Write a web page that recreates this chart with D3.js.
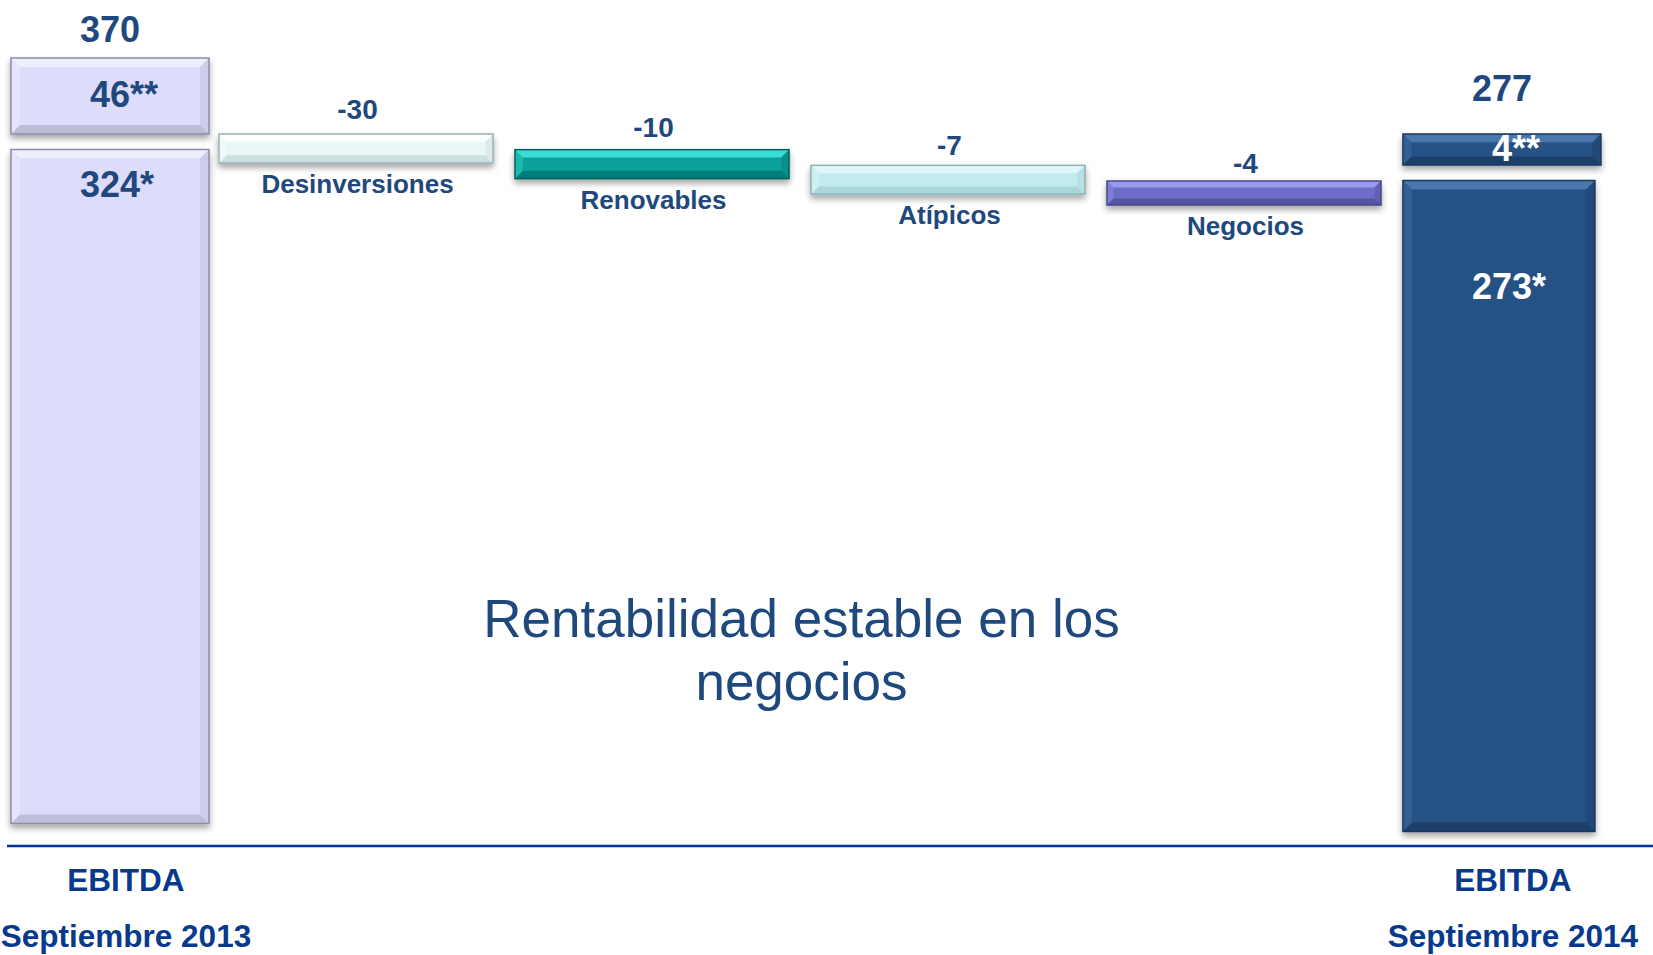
<!DOCTYPE html>
<html>
<head>
<meta charset="utf-8">
<script src="https://cdn.jsdelivr.net/npm/d3@7"></script>
<style>
  html, body { margin: 0; padding: 0; background: #ffffff; }
  svg { display: block; }
  text { font-family: "Liberation Sans", Arial, sans-serif; }
</style>
</head>
<body>
<svg id="chart" width="1653" height="955"></svg>
<script>
// ---------------- data ----------------
const categories = ["EBITDA Septiembre 2013", "Desinversiones", "Renovables", "Atípicos", "Negocios", "EBITDA Septiembre 2014"];
const stepCategories = ["Desinversiones", "Renovables", "Atípicos", "Negocios"];
const stepValues = [-30, -10, -7, -4];
const totals = [370, 277];              // EBITDA 2013, EBITDA 2014
const startParts = [324, 46];           // main*, extra**
const endParts = [273, 4];              // main*, extra**
const partSuffix = ["*", "**"];
const bottomLabels = [["EBITDA", "Septiembre 2013"], ["EBITDA", "Septiembre 2014"]];
const noteLines = ["Rentabilidad estable en los", "negocios"];

// ---------------- styles ----------------
const textBlue = "#1F497D";
const axisBlue = "#003399";
const bottomBlue = "#073A8C";
const stepStyle = {
  "Desinversiones": { fill: "#E9F6F6", stroke: "#9DB3B3", top: "#FFFFFF", bottom: "#C9DEDE" },
  "Renovables":     { fill: "#08A19C", stroke: "#06625F", top: "#3FE3DA", bottom: "#067A76" },
  "Atípicos":       { fill: "#C3EBEE", stroke: "#8DB2B5", top: "#E2F8FA", bottom: "#A7D4D8" },
  "Negocios":       { fill: "#6D6DC8", stroke: "#47478C", top: "#9D9DF2", bottom: "#52529E" }
};
const startStyle = { fill: "#DDDDFB", stroke: "#8D8DA6", top: "#F0F0FF", bottom: "#B9B9D6" };
const endStyle   = { fill: "#255185", stroke: "#19385D", top: "#4D7BB2", bottom: "#1B3D66" };

const svg = d3.select("#chart");
const defs = svg.append("defs");
const f = defs.append("filter").attr("id", "shadow").attr("x", "-10%").attr("y", "-20%").attr("width", "120%").attr("height", "160%");
f.append("feDropShadow").attr("dx", 0).attr("dy", 4).attr("stdDeviation", 3).attr("flood-color", "#000").attr("flood-opacity", 0.35);

// ---------------- scales ----------------
const x = d3.scaleBand().domain(categories).range([-77, 1680]).paddingInner(0.064).paddingOuter(0);
const bw = x.bandwidth();
const endW = 198;

const yStep = d3.scalePoint().domain(stepCategories).range([134, 181]);
const yStepLabel = d3.scalePoint().domain(stepCategories).range([119, 173]);
const thickness = d3.scaleLinear().domain([4, 7]).range([24, 29]).clamp(true);

const yTotal = d3.scaleLinear().domain([277, 370]).range([134, 58]);
const yTotalLabel = d3.scaleLinear().domain([277, 370]).range([101, 42]);
const boxH = d3.scaleLinear().domain([4, 46]).range([31, 76]);
const mainH = d3.scaleLinear().domain([273, 324]).range([651, 674]);
const yMainLabel = d3.scaleLinear().domain([273, 324]).range([299, 197]);
const segGap = 15.5;

// ---------------- bevel bar helper ----------------
function bevelBar(g, bx, by, w, h, st) {
  const b = Math.min(9, h * 0.27);
  const grp = g.append("g").attr("filter", "url(#shadow)");
  grp.append("rect").attr("x", bx).attr("y", by).attr("width", w).attr("height", h).attr("fill", st.fill);
  const poly = pts => pts.map(p => p.join(",")).join(" ");
  grp.append("polygon").attr("points", poly([[bx, by], [bx + w, by], [bx + w - b, by + b], [bx + b, by + b]])).attr("fill", st.top).attr("opacity", 0.9);
  grp.append("polygon").attr("points", poly([[bx, by + h], [bx + w, by + h], [bx + w - b, by + h - b], [bx + b, by + h - b]])).attr("fill", st.bottom).attr("opacity", 0.9);
  grp.append("polygon").attr("points", poly([[bx, by], [bx + b, by + b], [bx + b, by + h - b], [bx, by + h]])).attr("fill", st.top).attr("opacity", 0.35);
  grp.append("polygon").attr("points", poly([[bx + w, by], [bx + w - b, by + b], [bx + w - b, by + h - b], [bx + w, by + h]])).attr("fill", st.bottom).attr("opacity", 0.45);
  grp.append("rect").attr("x", bx).attr("y", by).attr("width", w).attr("height", h)
    .attr("fill", "none").attr("stroke", st.stroke).attr("stroke-width", 1.5);
}

function starLabel(g, cx, baseline, num, suffix, color) {
  const t = g.append("text").attr("y", baseline).attr("fill", color)
    .attr("font-size", 36).attr("font-weight", "bold");
  const n = t.append("tspan").text(num);
  t.append("tspan").text(suffix);
  const w = n.node().getComputedTextLength();
  t.attr("x", cx - w / 2);
}

// ---------------- axis line ----------------
svg.append("line").attr("x1", 7).attr("x2", 1653).attr("y1", 846).attr("y2", 846)
  .attr("stroke", axisBlue).attr("stroke-width", 2.5);

// ---------------- end columns ----------------
const endCols = [
  { cat: categories[0], total: totals[0], parts: startParts, st: startStyle, color: textBlue,
    x0: x(categories[1]) - 10 - endW, mainW: endW, labelShift: 16 },
  { cat: categories[5], total: totals[1], parts: endParts, st: endStyle, color: "#FFFFFF",
    x0: x(categories[5]), mainW: endW - 6, labelShift: 11 }
];
endCols.forEach((c, i) => {
  const g = svg.append("g");
  const top = yTotal(c.total);
  const bh = boxH(c.parts[1]);
  const mainTop = top + bh + segGap;
  const mh = mainH(c.parts[0]);
  bevelBar(g, c.x0, mainTop, c.mainW, mh, c.st);
  bevelBar(g, c.x0, top, endW, bh, c.st);
  const cx = c.x0 + endW / 2;
  g.append("text").attr("x", cx).attr("y", yTotalLabel(c.total)).attr("text-anchor", "middle")
    .attr("fill", textBlue).attr("font-size", 36).attr("font-weight", "bold").text(c.total);
  starLabel(g, cx, top + bh / 2 + 11, c.parts[1], partSuffix[1], c.color);
  starLabel(g, cx, yMainLabel(c.parts[0]), c.parts[0], partSuffix[0], c.color);
  bottomLabels[i].forEach((line, k) => {
    g.append("text").attr("x", cx + c.labelShift).attr("y", k === 0 ? 891 : 947).attr("text-anchor", "middle")
      .attr("fill", bottomBlue).attr("font-size", 31.5).attr("font-weight", "bold").text(line);
  });
});

// ---------------- step bars ----------------
stepCategories.forEach((cat, i) => {
  const g = svg.append("g");
  const v = stepValues[i];
  const by = yStep(cat);
  const h = thickness(Math.abs(v));
  const bx = x(cat);
  bevelBar(g, bx, by, bw - 3, h, stepStyle[cat]);
  const cx = bx + bw / 2;
  g.append("text").attr("x", cx).attr("y", yStepLabel(cat)).attr("text-anchor", "middle")
    .attr("fill", textBlue).attr("font-size", 28).attr("font-weight", "bold").text(v);
  g.append("text").attr("x", cx).attr("y", by + h + 30).attr("text-anchor", "middle")
    .attr("fill", textBlue).attr("font-size", 26).attr("font-weight", "bold").text(cat);
});

// ---------------- note ----------------
const noteX = (x(stepCategories[0]) + x(stepCategories[3]) + bw) / 2;
noteLines.forEach((line, k) => {
  svg.append("text").attr("x", noteX).attr("y", 637 + k * 63).attr("text-anchor", "middle")
    .attr("fill", textBlue).attr("font-size", 53).text(line);
});
</script>
</body>
</html>
